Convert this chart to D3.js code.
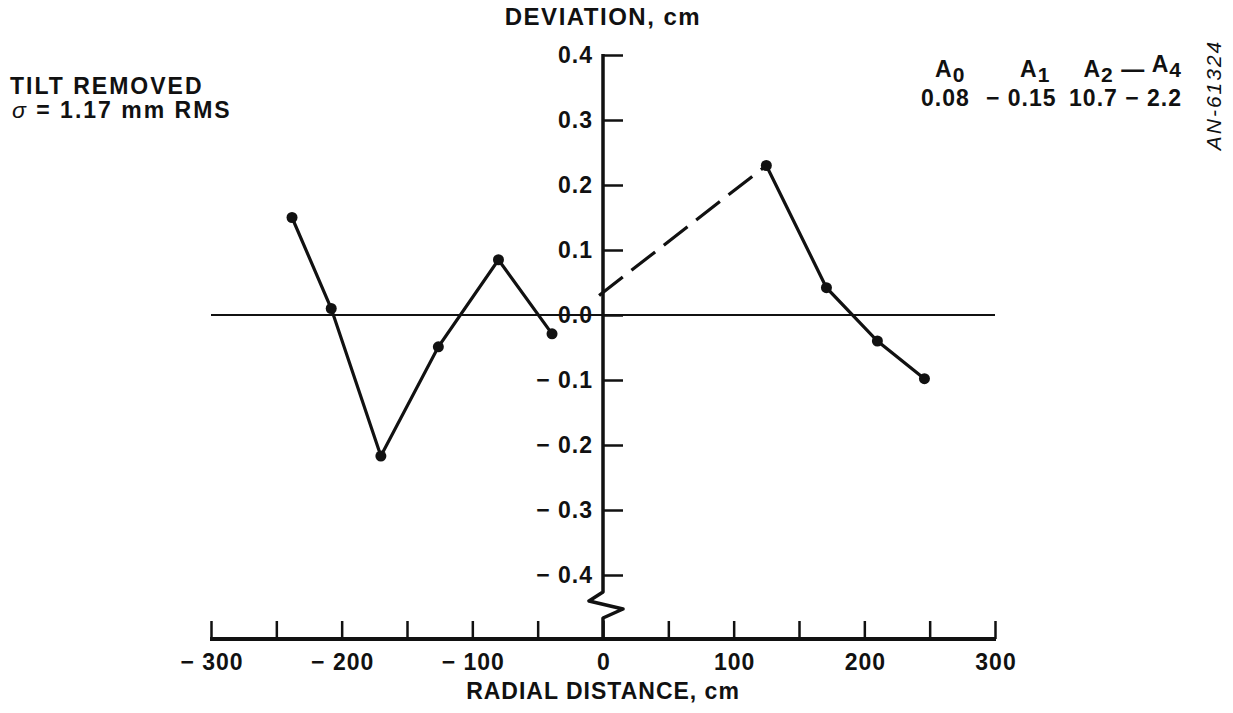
<!DOCTYPE html>
<html>
<head>
<meta charset="utf-8">
<script src="https://cdn.jsdelivr.net/npm/d3@7"></script>
<style>
  html, body { margin: 0; padding: 0; background: #fff; }
  svg { display: block; font-family: "Liberation Sans", Arial, Helvetica, sans-serif; }
  .lbl { font-weight: bold; fill: #111; letter-spacing: 1px; }
</style>
</head>
<body>
<svg id="chart" width="1233" height="713"></svg>
<script>
// Radial distance (cm) and surface deviation (cm) along the profile
const leftRadius = [-238, -208, -170, -126, -80, -39];
const leftDeviation = [0.15, 0.01, -0.217, -0.049, 0.085, -0.029];

const dashRadius = [-3, 125];
const dashDeviation = [0.03, 0.23];

const rightRadius = [125, 171, 210, 246];
const rightDeviation = [0.23, 0.042, -0.04, -0.098];

const xTicks = [-300, -250, -200, -150, -100, -50, 0, 50, 100, 150, 200, 250, 300];
const xTickLabels = [-300, -200, -100, 0, 100, 200, 300];
const yTicks = [0.4, 0.3, 0.2, 0.1, 0.0, -0.1, -0.2, -0.3, -0.4];

const coefNames = [["A", "0"], ["A", "1"], ["A", "2", " — ", "A", "4"]];
const coefValues = ["0.08", "− 0.15", "10.7 − 2.2"];

const svg = d3.select("#chart");
const ink = "#111";
const fs = 23;

const x = d3.scaleLinear().domain([-300, 300]).range([211, 995]);
const y = d3.scaleLinear().domain([-0.4, 0.4]).range([575, 55]);
const axisY = 639;

const fmtX = v => v < 0 ? "− " + Math.abs(v) : String(v);
const fmtY = v => v < 0 ? "− " + Math.abs(v).toFixed(1) : v.toFixed(1);

// Horizontal zero reference line
svg.append("line")
  .attr("x1", x(-300)).attr("x2", x(300))
  .attr("y1", y(0)).attr("y2", y(0))
  .attr("stroke", ink).attr("stroke-width", 2);

// Bottom axis: baseline with upward ticks
const xAxis = d3.axisTop(x).tickValues(xTicks).tickSize(18).tickFormat("");
const gx = svg.append("g").attr("transform", `translate(0,${axisY})`).call(xAxis);
gx.select(".domain").remove();
gx.selectAll(".tick line").attr("stroke", ink).attr("stroke-width", 2.5);
svg.append("line")
  .attr("x1", x(-300) - 1).attr("x2", x(300) + 1)
  .attr("y1", axisY).attr("y2", axisY)
  .attr("stroke", ink).attr("stroke-width", 4);

svg.selectAll(".xlab").data(xTickLabels).enter().append("text")
  .attr("class", "lbl")
  .attr("x", d => x(d) + 1).attr("y", axisY + 31)
  .attr("text-anchor", "middle")
  .attr("font-size", fs)
  .text(fmtX);

svg.append("text").attr("class", "lbl")
  .attr("x", x(0)).attr("y", axisY + 60)
  .attr("text-anchor", "middle").attr("font-size", fs)
  .text("RADIAL DISTANCE, cm");

// Vertical axis at zero radius, with a break symbol near the bottom
const x0 = x(0);
const gy = svg.append("g").attr("transform", `translate(${x0},0)`)
  .call(d3.axisRight(y).tickValues(yTicks).tickSize(20).tickFormat(""));
gy.select(".domain").remove();
gy.selectAll(".tick line").attr("stroke", ink).attr("stroke-width", 2.5);

const brk = d3.line()([
  [x0, y(0.4) - 1],
  [x0, 592],
  [x0 - 14, 601],
  [x0 + 20, 609],
  [x0, 618],
  [x0, axisY]
]);
svg.append("path").attr("d", brk)
  .attr("fill", "none").attr("stroke", ink).attr("stroke-width", 3.5)
  .attr("stroke-linejoin", "round");

svg.selectAll(".ylab").data(yTicks).enter().append("text")
  .attr("class", "lbl")
  .attr("x", x0 - 10).attr("y", d => y(d) + 8)
  .attr("text-anchor", "end")
  .attr("font-size", fs)
  .text(fmtY);

svg.append("text").attr("class", "lbl")
  .attr("x", x0).attr("y", 25)
  .attr("text-anchor", "middle").attr("font-size", 24)
  .style("letter-spacing", "1.5px")
  .text("DEVIATION, cm");

// Profile data
const line = d3.line().x(d => x(d[0])).y(d => y(d[1]));
const leftPts = d3.zip(leftRadius, leftDeviation);
const rightPts = d3.zip(rightRadius, rightDeviation);
const dashPts = d3.zip(dashRadius, dashDeviation);

svg.append("path").attr("d", line(leftPts))
  .attr("fill", "none").attr("stroke", ink).attr("stroke-width", 3.2);
svg.append("path").attr("d", line(rightPts))
  .attr("fill", "none").attr("stroke", ink).attr("stroke-width", 3.2);
svg.append("path").attr("d", line(dashPts))
  .attr("fill", "none").attr("stroke", ink).attr("stroke-width", 3.2)
  .attr("stroke-dasharray", "30,11");

svg.selectAll(".pt").data(leftPts.concat(rightPts)).enter().append("circle")
  .attr("cx", d => x(d[0])).attr("cy", d => y(d[1])).attr("r", 5.5)
  .attr("fill", ink);

// Annotations
svg.append("text").attr("class", "lbl")
  .attr("x", 10).attr("y", 94).attr("font-size", fs)
  .style("letter-spacing", "2px")
  .text("TILT REMOVED");
const sig = svg.append("text").attr("class", "lbl")
  .attr("x", 12).attr("y", 118).attr("font-size", fs)
  .style("letter-spacing", "2px");
sig.append("tspan").attr("font-style", "italic").attr("font-weight", "normal").text("σ");
sig.append("tspan").text(" = 1.17 mm RMS");

// Coefficient table (upper right)
const nameX = [935, 1020, 1182];
const nameAnchor = ["start", "start", "end"];
coefNames.forEach((parts, i) => {
  const t = svg.append("text").attr("class", "lbl")
    .attr("x", nameX[i]).attr("y", 77).attr("font-size", fs)
    .attr("text-anchor", nameAnchor[i])
    .style("letter-spacing", "1px");
  parts.forEach((p, j) => {
    if (/^\d$/.test(p)) {
      t.append("tspan").attr("dy", 5).attr("font-size", 21).text(p);
    } else {
      t.append("tspan").attr("dy", j > 0 ? -5 : 0).text(p);
    }
  });
});
const valX = [921, 986, 1182];
const valAnchor = ["start", "start", "end"];
coefValues.forEach((v, i) => {
  svg.append("text").attr("class", "lbl")
    .attr("x", valX[i]).attr("y", 106).attr("font-size", fs)
    .attr("text-anchor", valAnchor[i])
    .style("letter-spacing", "1px")
    .text(v);
});

svg.append("text")
  .attr("transform", "translate(1221,95) rotate(-90)")
  .attr("text-anchor", "middle")
  .attr("font-size", 21).attr("font-style", "italic")
  .style("letter-spacing", "2px")
  .attr("fill", ink)
  .text("AN-61324");
</script>
</body>
</html>
